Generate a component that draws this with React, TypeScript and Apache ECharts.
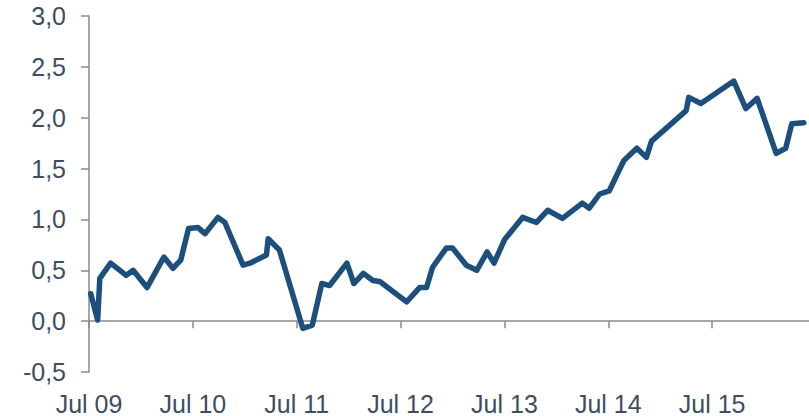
import React, { useEffect, useRef } from "react";
import * as echarts from "echarts";

// months since Jul 2009
const monthOffsets = [
  0.2, 1.0, 1.25, 2.5, 4.3, 5.1, 6.7, 8.65, 9.7, 10.6, 11.5, 12.6, 13.4, 14.9, 15.7,
  17.8, 18.6, 20.5, 20.7, 22.0, 24.7, 25.8, 26.9, 27.8, 29.8, 30.6, 31.7, 32.8, 33.6,
  36.7, 38.2, 39.0, 39.7, 41.3, 42.0, 43.6, 44.8, 46.0, 46.8, 48.0, 50.1, 51.7, 53.0,
  54.7, 57.0, 57.8, 59.0, 60.1, 61.8, 63.3, 64.4, 65.0, 69.0, 69.3, 70.7, 74.5, 75.9,
  77.2, 79.4, 80.5, 81.2, 82.6,
];
const values = [
  0.27, 0.01, 0.42, 0.57, 0.45, 0.5, 0.33, 0.63, 0.52, 0.6, 0.91, 0.92, 0.86, 1.02, 0.97,
  0.55, 0.57, 0.65, 0.81, 0.7, -0.07, -0.04, 0.37, 0.35, 0.57, 0.37, 0.47, 0.4, 0.39,
  0.19, 0.33, 0.33, 0.53, 0.72, 0.72, 0.55, 0.5, 0.68, 0.57, 0.8, 1.02, 0.97, 1.09,
  1.01, 1.16, 1.11, 1.25, 1.28, 1.58, 1.7, 1.61, 1.77, 2.07, 2.2, 2.14, 2.36, 2.09,
  2.19, 1.65, 1.7, 1.94, 1.95,
];
const tickLabels = ["Jul 09", "Jul 10", "Jul 11", "Jul 12", "Jul 13", "Jul 14", "Jul 15"];

const textColor = "#3d4e63";
const axisColor = "#8a8a8a";
const font = "Liberation Sans, Arial, sans-serif";

export default function App() {
  const ref = useRef<HTMLDivElement>(null);
  useEffect(() => {
    document.body.style.margin = "0";
    if (!ref.current) return;
    const chart = echarts.init(ref.current, undefined, { renderer: "svg" });
    const xLabel = (v: number) => {
      if (Math.abs(v % 12) > 1e-6) return "";
      return tickLabels[Math.round(v / 12)] ?? "";
    };
    chart.setOption({
      animation: false,
      backgroundColor: "#ffffff",
      grid: {
        left: 89,
        right: -7,
        top: 16,
        bottom: 44,
        containLabel: false,
        outerBoundsMode: "none",
      },
      xAxis: [
        {
          type: "value",
          min: 0,
          max: 84,
          interval: 12,
          position: "bottom",
          axisLine: { show: true, onZero: true, lineStyle: { color: axisColor, width: 1.5 } },
          axisTick: { show: true, length: 7, lineStyle: { color: axisColor, width: 1.5 } },
          axisLabel: { show: false },
          splitLine: { show: false },
        },
        {
          type: "value",
          min: 0,
          max: 84,
          interval: 12,
          position: "bottom",
          axisLine: { show: false, onZero: false },
          axisTick: { show: false },
          axisLabel: {
            show: true,
            margin: 19,
            color: textColor,
            fontSize: 25,
            fontFamily: font,
            formatter: xLabel,
            showMaxLabel: false,
          },
          splitLine: { show: false },
        },
      ],
      yAxis: {
        type: "value",
        min: -0.5,
        max: 3,
        interval: 0.5,
        axisLine: { show: true, onZero: false, lineStyle: { color: axisColor, width: 1.5 } },
        axisTick: { show: true, length: 8, lineStyle: { color: axisColor, width: 1.5 } },
        axisLabel: {
          margin: 23,
          color: textColor,
          fontSize: 25,
          fontFamily: font,
          formatter: (v: number) => v.toFixed(1).replace(".", ","),
        },
        splitLine: { show: false },
      },
      series: [
        {
          type: "line",
          xAxisIndex: 0,
          data: monthOffsets.map((m, i) => [m, values[i]]),
          showSymbol: false,
          symbol: "none",
          lineStyle: { color: "#1c4f7c", width: 5.5, join: "round", cap: "round" },
          clip: false,
        },
      ],
    });
    return () => chart.dispose();
  }, []);
  return <div ref={ref} style={{ width: 809, height: 416 }} />;
}
